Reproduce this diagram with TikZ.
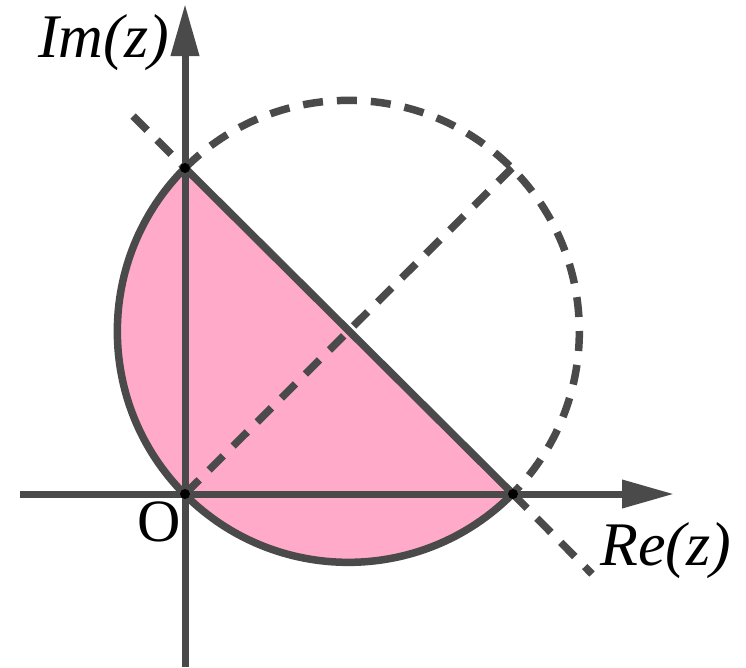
\documentclass[tikz,border=0pt]{standalone}
\usepackage{fontspec}
\setmainfont{Liberation Serif}
\usetikzlibrary{arrows.meta}
\definecolor{ln}{HTML}{4A4A4A}
\definecolor{pk}{RGB}{255,170,200}
\begin{document}
\begin{tikzpicture}[x=1pt,y=-1pt,
  curve/.style={draw=ln,line width=7.5pt},
  dashline/.style={draw=ln,line width=7.5pt,dash pattern=on 20pt off 14pt},
  axis/.style={draw=ln,line width=7pt,-{Triangle[length=52pt,width=27pt]}},
  lbl/.style={font=\fontsize{62}{66}\selectfont\itshape,inner sep=0pt,anchor=base west},
  dot/.style={fill=black,circle,inner sep=0pt,minimum size=10pt}]
\useasboundingbox (0,0) rectangle (746,667);
\coordinate (C) at (349,331);
\coordinate (A) at (185,168);
\coordinate (O) at (185,494);
\coordinate (B) at (513,494);
\coordinate (D) at (512,168);
\coordinate (P1) at (133,116);
\coordinate (P2) at (592,574);
\coordinate (XL) at (20,494);
\coordinate (XR) at (674,494);
\coordinate (YB) at (185,667);
\coordinate (YT) at (185,4);
% pink half disk
\fill[pk] (A) arc[start angle=225,end angle=45,radius=231] -- cycle;
% dashed half circle
\draw[dashline] (A) arc[start angle=225,end angle=405,radius=231];
% dashed lines
\draw[dashline] (P1) -- (A);
\draw[dashline] (B) -- (P2);
\draw[dashline] (O) -- (D);
% solid boundary
\draw[curve] (A) arc[start angle=225,end angle=45,radius=231];
\draw[curve] (A) -- (B);
% axes
\draw[axis] (XL) -- (XR);
\draw[axis] (YB) -- (YT);
% dots
\node[dot] at (A) {};
\node[dot] at (O) {};
\node[dot] at (B) {};
% labels
\node[lbl] (im) at (38,57) {Im(z)};
\node[lbl] (re) at (600,565) {Re(z)};
\node[lbl,font=\fontsize{60}{64}\selectfont] (o) at (137,541) {O};
\end{tikzpicture}
\end{document}
